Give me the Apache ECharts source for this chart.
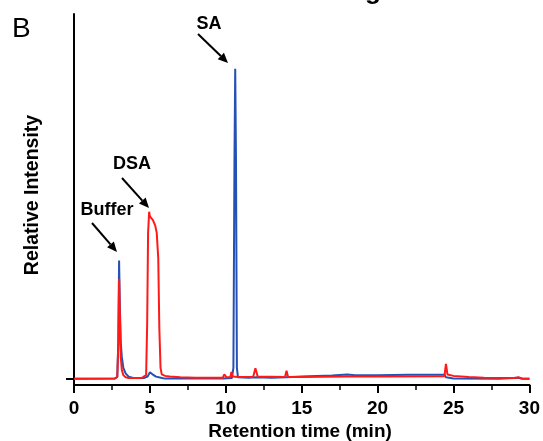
<!DOCTYPE html>
<html>
<head>
<meta charset="utf-8">
<script src="https://cdn.jsdelivr.net/npm/echarts@6/dist/echarts.min.js"></script>
<style>html,body{margin:0;padding:0;background:#fff;}#c{width:543px;height:441px;}</style>
</head>
<body>
<div id="c"></div>
<script>
// Blue trace (retention time in min, relative intensity)
var blueTime = [0, 2.7, 2.85, 2.92, 2.97, 3.02, 3.08, 3.15, 3.25, 3.4, 3.6, 3.9, 4.6, 4.85, 5.0, 5.15, 5.4, 5.8, 6.0, 9.8, 10.4, 10.5, 10.57, 10.62, 10.67, 10.73, 10.8, 11.5, 12, 13, 14, 15, 16, 17, 18, 18.5, 20, 22, 24.4, 24.5, 25, 28, 29.3, 29.5, 30];
var blueVal  = [0, 0.1, 0.5, 10, 32.4, 20, 10, 6, 3, 1.5, 0.6, 0.2, 0.2, 0.6, 1.8, 1.3, 0.6, 0.2, 0.05, 0.1, 0.2, 3, 60, 85, 60, 3, 0.4, 0.3, 0.4, 0.3, 0.4, 0.6, 0.8, 0.9, 1.2, 1.0, 1.0, 1.1, 1.1, 0.4, 0.1, 0, 0.3, 0, 0];
// Red trace
var redTime = [0, 2.7, 2.85, 2.92, 2.97, 3.02, 3.08, 3.15, 3.25, 3.4, 3.6, 4.3, 4.4, 4.5, 4.6, 4.75, 4.82, 4.88, 4.95, 5.0, 5.08, 5.2, 5.35, 5.45, 5.55, 5.62, 5.7, 5.78, 6.0, 6.3, 7, 8, 9.8, 9.9, 9.95, 10.05, 10.3, 10.37, 10.45, 10.8, 11.8, 11.95, 12.1, 13.9, 14.0, 14.1, 15, 18, 20, 24.4, 24.5, 24.6, 25, 26, 27, 29, 29.3, 29.5, 30];
var redVal  = [0, 0.1, 0.5, 10, 27.4, 18, 6, 2.5, 1.0, 0.4, 0.2, 0.2, 0.6, 0.3, 0.5, 1, 15, 40, 45.8, 44.5, 45, 43.5, 42, 40, 33, 14, 3, 1.2, 0.8, 0.6, 0.4, 0.3, 0.3, 1.2, 1.4, 0.4, 0.5, 1.9, 0.6, 0.5, 0.5, 2.9, 0.6, 0.5, 2.2, 0.5, 0.5, 0.6, 0.6, 0.7, 4.1, 1.2, 0.8, 0.5, 0.3, 0.2, 0.4, 0.1, 0];
// Axis
var xTicks = [0, 5, 10, 15, 20, 25, 30];
var xTitle = 'Retention time (min)';
var yTitle = 'Relative Intensity';
var annotations = ['SA', 'DSA', 'Buffer'];

function zip(a, b) { return a.map(function (v, i) { return [v, b[i]]; }); }

function arrow(x1, y1, x2, y2) {
  var dx = x2 - x1, dy = y2 - y1, L = Math.sqrt(dx * dx + dy * dy);
  var ux = dx / L, uy = dy / L, hl = 10, hw = 4.5;
  var bx = x2 - ux * hl, by = y2 - uy * hl;
  return [
    { type: 'line', shape: { x1: x1, y1: y1, x2: bx, y2: by }, style: { stroke: '#000', lineWidth: 2 } },
    { type: 'polygon', shape: { points: [[x2, y2], [bx - uy * hw, by + ux * hw], [bx + uy * hw, by - ux * hw]] }, style: { fill: '#000' } }
  ];
}

var font = '"Liberation Sans", Arial, Helvetica, sans-serif';
var graphics = [
  { type: 'text', left: 12, top: 15, style: { text: 'B', font: 'normal 28px ' + font, fill: '#000' } },
  { type: 'text', x: 373, y: 5, style: { text: 'g', font: 'bold 26px ' + font, fill: '#000', align: 'center', verticalAlign: 'bottom' } },
  { type: 'text', x: 209, y: 24, style: { text: annotations[0], font: 'bold 18px ' + font, fill: '#000', align: 'center', verticalAlign: 'middle' } },
  { type: 'text', x: 132, y: 164, style: { text: annotations[1], font: 'bold 18px ' + font, fill: '#000', align: 'center', verticalAlign: 'middle' } },
  { type: 'text', x: 107, y: 210, style: { text: annotations[2], font: 'bold 18px ' + font, fill: '#000', align: 'center', verticalAlign: 'middle' } },
  { type: 'text', x: 300, y: 432, style: { text: xTitle, font: 'bold 19px ' + font, fill: '#000', align: 'center', verticalAlign: 'middle' } },
  { type: 'text', x: 33, y: 195, rotation: Math.PI / 2, style: { text: yTitle, font: 'bold 19.5px ' + font, fill: '#000', align: 'center', verticalAlign: 'middle' } }
].concat(arrow(198, 34, 228, 63), arrow(122, 178, 149, 208), arrow(92, 223, 117, 252));

var chart = echarts.init(document.getElementById('c'), null, { renderer: 'canvas' });
chart.setOption({
  animation: false,
  backgroundColor: '#fff',
  grid: { left: 74, right: 11, top: 14, bottom: 56, containLabel: false },
  xAxis: {
    type: 'value', min: 0, max: 30, interval: 5,
    axisLine: { show: true, onZero: false, lineStyle: { color: '#000', width: 2 } },
    axisTick: { show: true, inside: false, length: 8, lineStyle: { color: '#000', width: 2 } },
    minorTick: { show: true, splitNumber: 2, length: 5, lineStyle: { color: '#000', width: 1.5 } },
    axisLabel: { show: true, margin: 14, color: '#000', fontSize: 19, fontWeight: 'bold', fontFamily: font,
      formatter: function (v) { return xTicks.indexOf(v) >= 0 ? String(v) : ''; } },
    splitLine: { show: false }
  },
  yAxis: {
    type: 'value', min: -1.7, max: 100,
    axisLine: { show: true, onZero: false, lineStyle: { color: '#000', width: 2 } },
    axisTick: { show: true, inside: false, length: 8, customValues: [0], lineStyle: { color: '#000', width: 2 } },
    axisLabel: { show: false },
    splitLine: { show: false }
  },
  series: [
    { type: 'line', data: zip(blueTime, blueVal), showSymbol: false, symbol: 'none', lineStyle: { color: '#2451b3', width: 2 }, z: 2 },
    { type: 'line', data: zip(redTime, redVal), showSymbol: false, symbol: 'none', lineStyle: { color: '#ff1a1a', width: 2 }, z: 3 }
  ],
  graphic: graphics
});
</script>
</body>
</html>
